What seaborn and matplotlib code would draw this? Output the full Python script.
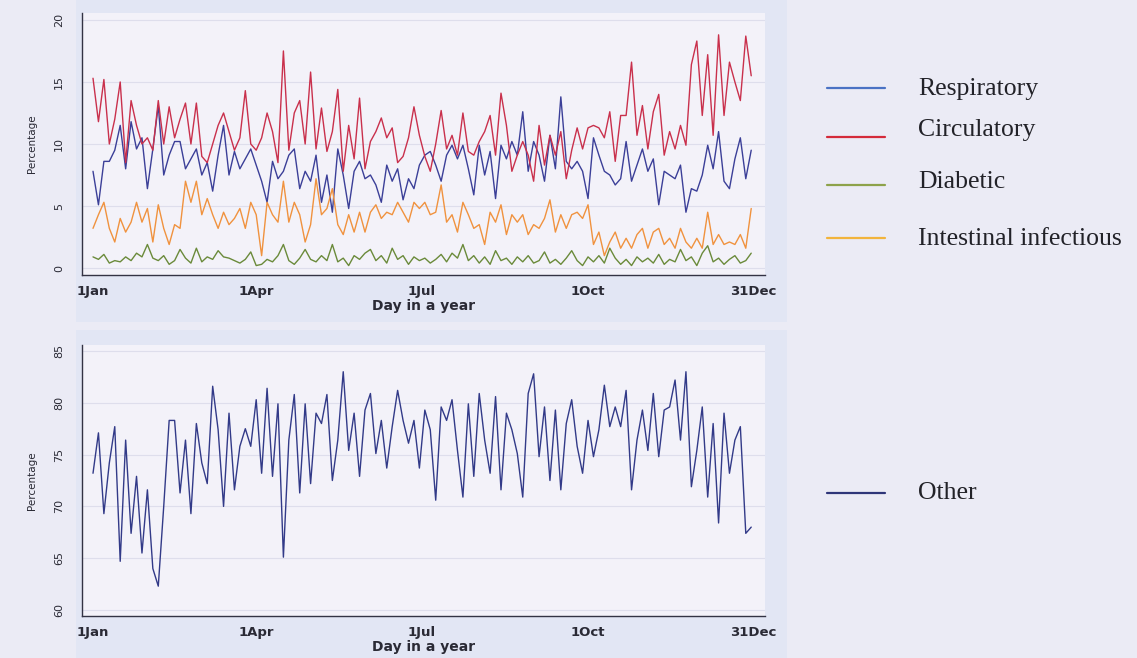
import numpy as np
import pandas as pd
import matplotlib
matplotlib.use("Agg")
import matplotlib.pyplot as plt
from matplotlib.lines import Line2D
from matplotlib.patches import Rectangle
import seaborn as sns

# Day of the year (every third day), Jan 1 = 0
days = np.arange(0, 366, 3)

month_ticks = [0, 90, 181, 273, 364]
month_labels = ["1Jan", "1Apr", "1Jul", "1Oct", "31Dec"]

# Daily share of admissions by cause (%)
respiratory = [
    7.8, 5.1, 8.6, 8.6, 9.5, 11.5, 8.0, 11.8, 9.6, 10.5,
    6.4, 9.6, 13.1, 7.5, 9.1, 10.2, 10.2, 8.0, 8.8, 9.6,
    7.5, 8.5, 6.2, 9.1, 11.5, 7.5, 9.4, 8.0, 8.8, 9.6,
    8.3, 7.0, 5.3, 8.6, 7.2, 7.8, 9.1, 9.6, 6.4, 7.8,
    7.0, 9.1, 5.3, 7.5, 4.5, 9.6, 7.5, 4.8, 7.8, 8.6,
    7.2, 7.5, 6.7, 5.3, 8.3, 7.0, 8.0, 5.5, 7.2, 6.4,
    8.3, 9.1, 9.4, 8.3, 7.0, 9.1, 9.9, 8.8, 9.9, 8.0,
    5.9, 9.9, 7.5, 9.4, 5.6, 9.9, 8.8, 10.2, 9.1, 12.6,
    7.8, 10.2, 9.1, 7.0, 10.7, 8.0, 13.8, 8.6, 8.0, 8.6,
    7.8, 5.6, 10.5, 9.1, 7.8, 7.5, 6.7, 7.2, 10.2, 7.0,
    8.3, 9.6, 7.8, 8.8, 5.1, 7.8, 7.5, 7.2, 8.3, 4.5,
    6.4, 6.2, 7.5, 9.9, 8.0, 11.0, 7.0, 6.4, 8.8, 10.5,
    7.2, 9.5,
]
circulatory = [
    15.3, 11.8, 15.2, 10.0, 12.0, 15.0, 8.5, 13.5, 11.5, 10.0,
    10.5, 9.5, 13.5, 10.0, 13.0, 10.5, 12.0, 13.3, 10.0, 13.3,
    9.0, 8.5, 10.0, 11.5, 12.5, 11.0, 9.5, 10.5, 14.3, 10.0,
    9.5, 10.5, 12.5, 11.0, 8.5, 17.5, 9.5, 12.5, 13.5, 10.0,
    15.8, 9.6, 12.9, 9.4, 11.0, 14.4, 7.8, 11.5, 8.8, 13.7,
    8.0, 10.2, 11.0, 12.1, 10.5, 11.3, 8.5, 9.0, 10.5, 13.0,
    10.7, 9.0, 7.8, 10.0, 12.7, 9.6, 10.7, 9.1, 12.5, 9.4,
    9.1, 10.2, 11.0, 12.3, 9.1, 14.1, 11.5, 7.8, 9.1, 10.2,
    9.1, 7.0, 11.5, 8.3, 10.7, 9.1, 11.0, 7.2, 9.5, 11.3,
    9.6, 11.3, 11.5, 11.3, 10.5, 12.6, 8.6, 12.3, 12.3, 16.6,
    10.7, 13.1, 9.6, 12.6, 14.0, 9.1, 11.0, 9.6, 11.5, 9.9,
    16.4, 18.3, 12.3, 17.2, 10.7, 18.8, 12.3, 16.6, 15.0, 13.5,
    18.7, 15.5,
]
diabetic = [
    0.9, 0.7, 1.1, 0.4, 0.6, 0.5, 0.9, 0.6, 1.2, 0.9,
    1.9, 0.8, 0.6, 1.0, 0.3, 0.6, 1.5, 0.8, 0.4, 1.6,
    0.5, 0.9, 0.7, 1.4, 0.9, 0.8, 0.6, 0.4, 0.7, 1.3,
    0.2, 0.3, 0.7, 0.5, 1.0, 1.9, 0.6, 0.3, 0.8, 1.5,
    0.7, 0.5, 1.0, 0.6, 1.9, 0.5, 0.8, 0.2, 1.0, 0.7,
    1.2, 1.5, 0.6, 1.0, 0.4, 1.6, 0.7, 1.0, 0.3, 0.9,
    0.6, 0.8, 0.4, 0.7, 1.1, 0.5, 1.2, 0.8, 1.9, 0.6,
    1.0, 0.4, 0.9, 0.3, 1.4, 0.6, 0.8, 0.3, 0.9, 0.5,
    1.0, 0.4, 0.6, 1.3, 0.4, 0.7, 0.3, 0.8, 1.4, 0.6,
    0.2, 0.9, 0.5, 1.0, 0.4, 1.6, 0.8, 0.3, 0.7, 0.2,
    0.9, 0.5, 0.8, 0.4, 1.1, 0.3, 0.7, 0.5, 1.5, 0.6,
    0.9, 0.2, 1.2, 1.8, 0.5, 0.8, 0.3, 0.7, 1.0, 0.4,
    0.6, 1.2,
]
intestinal = [
    3.2, 4.3, 5.3, 3.2, 2.1, 4.0, 2.9, 3.7, 5.3, 3.7,
    4.8, 2.1, 5.1, 3.2, 1.9, 3.5, 3.2, 7.0, 5.3, 7.0,
    4.3, 5.6, 4.3, 3.2, 4.5, 3.5, 4.0, 4.8, 3.2, 5.3,
    4.3, 1.0, 5.3, 4.3, 3.7, 7.0, 3.7, 5.3, 4.3, 2.1,
    3.5, 7.2, 4.3, 4.8, 6.4, 3.5, 2.7, 4.3, 2.9, 4.5,
    2.9, 4.5, 5.1, 4.0, 4.5, 4.3, 5.3, 4.5, 3.7, 5.3,
    4.8, 5.3, 4.3, 4.5, 6.7, 3.7, 4.3, 2.9, 5.3, 4.3,
    3.2, 3.5, 1.9, 4.5, 3.7, 5.1, 2.7, 4.3, 3.7, 4.3,
    2.7, 3.5, 3.2, 4.0, 5.5, 2.9, 4.3, 3.2, 4.3, 4.5,
    4.0, 5.1, 1.9, 2.9, 1.0, 2.1, 2.9, 1.6, 2.4, 1.6,
    2.7, 3.2, 1.6, 2.9, 3.2, 1.9, 2.4, 1.6, 3.2, 2.1,
    1.6, 2.4, 1.6, 4.5, 1.9, 2.7, 1.9, 2.1, 1.9, 2.7,
    1.6, 4.8,
]
other = [
    73.2, 77.1, 69.3, 74.2, 77.7, 64.7, 76.4, 67.4, 72.9, 65.5,
    71.6, 64.0, 62.3, 70.0, 78.3, 78.3, 71.3, 76.4, 69.3, 78.0,
    74.2, 72.2, 81.6, 77.4, 70.0, 79.0, 71.6, 75.8, 77.5, 75.8,
    80.3, 73.2, 81.4, 72.9, 79.9, 65.1, 76.4, 80.8, 71.3, 79.9,
    72.2, 79.0, 78.0, 80.8, 72.5, 76.4, 83.0, 75.4, 79.0, 72.9,
    79.3, 80.9, 75.1, 78.3, 73.7, 77.7, 81.2, 78.3, 76.1, 78.3,
    73.7, 79.3, 77.4, 70.6, 79.6, 78.3, 80.3, 75.4, 70.9, 79.9,
    72.9, 80.9, 76.4, 73.2, 80.6, 71.6, 79.0, 77.4, 75.1, 70.9,
    80.9, 82.8, 74.8, 79.6, 72.5, 79.3, 71.6, 78.0, 80.3, 75.8,
    73.2, 78.3, 74.8, 77.4, 81.7, 77.7, 79.6, 77.7, 81.2, 71.6,
    76.4, 79.3, 75.4, 80.9, 74.8, 79.3, 79.6, 82.2, 76.4, 83.0,
    71.9, 75.4, 79.6, 70.9, 78.0, 68.4, 79.0, 73.2, 76.4, 77.7,
    67.4, 68.0,
]

causes = ["Respiratory", "Circulatory", "Diabetic", "Intestinal infectious"]
line_colors = {
    "Respiratory": "#3b3f98",
    "Circulatory": "#c9304c",
    "Diabetic": "#6a8a3a",
    "Intestinal infectious": "#f0923e",
    "Other": "#323a88",
}
key_colors = {
    "Respiratory": "#4a72c4",
    "Circulatory": "#d42a3a",
    "Diabetic": "#8da24a",
    "Intestinal infectious": "#f2b43c",
    "Other": "#2e3578",
}

top_df = pd.concat(
    [pd.DataFrame({"day": days, "pct": vals, "cause": name})
     for name, vals in zip(causes, [respiratory, circulatory, diabetic, intestinal])],
    ignore_index=True,
)
bottom_df = pd.DataFrame({"day": days, "pct": other, "cause": "Other"})

sns.set_style("white")
plt.rcParams["font.family"] = ["DejaVu Sans"]

W, H = 1137, 658
fig = plt.figure(figsize=(W / 100, H / 100), dpi=100, facecolor="#ebebf5")

# light blue graph panels behind the two plots
for y0, y1 in [(0, 322), (330, 658)]:
    fig.add_artist(Rectangle((76 / W, 1 - y1 / H), (787 - 76) / W, (y1 - y0) / H,
                             transform=fig.transFigure, facecolor="#e2e6f4",
                             edgecolor="none", zorder=0))

ax_top = fig.add_axes([82 / W, 1 - 275 / H, 683 / W, 262 / H])
ax_bot = fig.add_axes([82 / W, 1 - 616 / H, 683 / W, 271 / H])

sns.lineplot(data=top_df, x="day", y="pct", hue="cause", hue_order=causes,
             palette=line_colors, linewidth=1.0, legend=False, ax=ax_top)
sns.lineplot(data=bottom_df, x="day", y="pct", hue="cause",
             palette=line_colors, linewidth=1.0, legend=False, ax=ax_bot)


def style_axis(ax, yticks, ylim, label_y):
    ax.set_facecolor("#f3f2f9")
    ax.set_xlim(-6.07, 370.6)
    ax.set_ylim(*ylim)
    ax.set_xticks(month_ticks)
    ax.set_xticklabels(month_labels, fontsize=9.5, fontweight="bold", color="#2a2a35")
    ax.set_yticks(yticks)
    ax.set_yticklabels([str(t) for t in yticks], fontsize=8, color="#2a2a35",
                       rotation=90, va="center")
    ax.tick_params(axis="x", length=4, width=1, pad=3, color="#333344")
    ax.tick_params(axis="y", length=5, width=1, pad=8, color="#333344")
    ax.yaxis.grid(True, color="#dedeec", linewidth=0.8)
    ax.xaxis.grid(False)
    for side in ("top", "right"):
        ax.spines[side].set_visible(False)
    for side in ("left", "bottom"):
        ax.spines[side].set_color("#333344")
        ax.spines[side].set_linewidth(1.0)
    ax.set_xlabel("Day in a year", fontsize=10, fontweight="bold", color="#2a2a35")
    ax.xaxis.set_label_coords(0.5, label_y)
    ax.set_ylabel("Percentage", fontsize=7.5, color="#2a2a35", labelpad=12)


style_axis(ax_top, [0, 5, 10, 15, 20], (-0.56, 20.56), -24 / 262)
style_axis(ax_bot, [60, 65, 70, 75, 80, 85], (59.42, 85.58), -24 / 271)

# key on the right-hand side
serif = ["Liberation Serif", "DejaVu Serif"]
entries = [
    ("Respiratory", 88, 95),
    ("Circulatory", 137, 136),
    ("Diabetic", 185, 188),
    ("Intestinal infectious", 238, 245),
    ("Other", 493, 499),
]
for name, y_line, y_base in entries:
    fig.add_artist(Line2D([827 / W, 885 / W], [1 - y_line / H] * 2,
                          transform=fig.transFigure, color=key_colors[name],
                          linewidth=1.6))
    fig.text(918 / W, 1 - y_base / H, name, family=serif, fontsize=18.5,
             color="#222228", va="baseline", ha="left")

fig.savefig("out.png", dpi=100, facecolor=fig.get_facecolor())
